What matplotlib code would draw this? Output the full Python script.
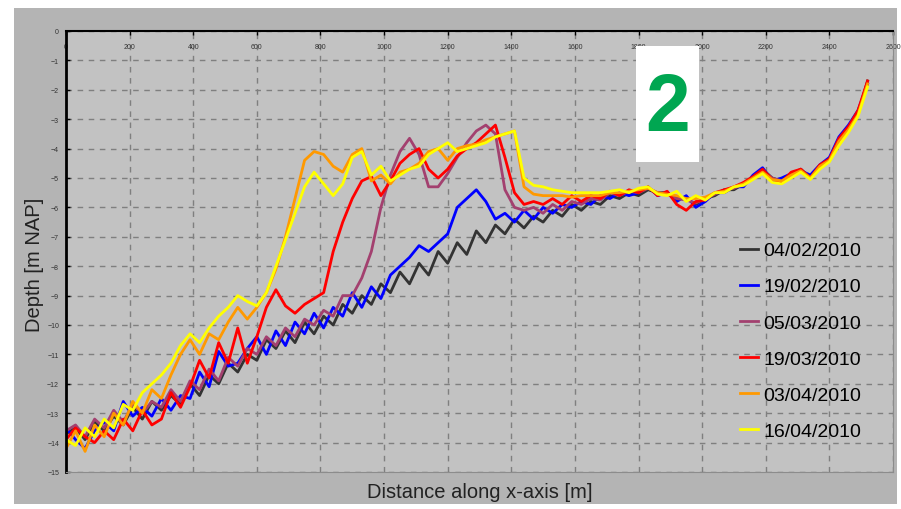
import numpy as np
import matplotlib
matplotlib.use("Agg")
import matplotlib.pyplot as plt
from matplotlib.patches import Rectangle

# Sample positions along the profile [m], one every 30 m
distance = np.arange(0, 2521, 30)

# Bed level [m NAP] for each survey date
depth_0402 = [
    -13.7, -13.5, -13.9, -13.3, -13.6, -13.1, -13.4, -12.8, -13.2, -12.6,
    -12.9, -12.4, -12.7, -12.0, -12.4, -11.7, -12.0, -11.3, -11.6, -11.0,
    -11.2, -10.5, -10.8, -10.2, -10.6, -9.9, -10.3, -9.7, -10.0, -9.3,
    -9.6, -9.0, -9.3, -8.6, -8.9, -8.2, -8.6, -7.9, -8.3, -7.5,
    -7.9, -7.2, -7.6, -6.8, -7.2, -6.6, -6.9, -6.4, -6.7, -6.3,
    -6.5, -6.1, -6.3, -5.9, -6.1, -5.8, -5.9, -5.6, -5.7, -5.5,
    -5.6, -5.4, -5.5, -5.5, -5.7, -5.7, -5.9, -5.7, -5.6, -5.4,
    -5.4, -5.2, -5.0, -4.7, -5.0, -5.1, -4.9, -4.7, -5.0, -4.6,
    -4.4, -3.7, -3.3, -2.8, -1.7]
depth_1902 = [
    -13.5, -13.9, -14.2, -13.6, -13.3, -13.6, -12.6, -13.1, -12.8, -13.1,
    -12.5, -12.9, -12.4, -12.5, -11.6, -12.1, -10.9, -11.4, -11.3, -10.8,
    -10.4, -11.0, -10.2, -10.7, -9.9, -10.3, -9.6, -10.1, -9.4, -9.7,
    -8.9, -9.4, -8.7, -9.1, -8.3, -8.0, -7.7, -7.3, -7.5, -7.2,
    -6.9, -6.0, -5.7, -5.4, -5.8, -6.4, -6.2, -6.5, -6.1, -6.4,
    -6.0, -6.2, -5.9, -6.0, -5.8, -5.9, -5.6, -5.7, -5.5, -5.6,
    -5.5, -5.3, -5.6, -5.5, -5.8, -5.6, -6.0, -5.8, -5.5, -5.5,
    -5.3, -5.3, -4.9, -4.65, -5.1, -5.0, -4.85, -4.75, -4.9, -4.55,
    -4.3, -3.6, -3.2, -2.7, -1.8]
depth_0503 = [
    -13.6, -13.4, -13.8, -13.2, -13.5, -12.9, -13.3, -12.7, -13.0, -12.6,
    -12.8, -12.2, -12.6, -11.9, -12.2, -11.5, -11.9, -11.1, -11.4, -10.8,
    -11.0, -10.4, -10.7, -10.1, -10.4, -9.8, -10.0, -9.5, -9.7, -9.0,
    -9.0, -8.4, -7.5, -6.0, -4.9, -4.1, -3.65, -4.2, -5.3, -5.3,
    -4.85, -4.3, -3.8, -3.4, -3.2, -3.5, -5.4, -6.0, -6.1, -6.0,
    -6.2, -5.9, -6.1, -5.8, -5.9, -5.7, -5.75, -5.5, -5.6, -5.45,
    -5.5, -5.35, -5.5, -5.55, -5.7, -5.75, -5.85, -5.7, -5.55, -5.4,
    -5.35, -5.2, -5.0, -4.75, -5.0, -5.1, -4.9, -4.7, -5.0, -4.6,
    -4.4, -3.7, -3.3, -2.8, -1.75]
depth_1903 = [
    -13.9, -13.5, -13.8, -14.0, -13.6, -13.9, -13.2, -13.6, -12.9, -13.4,
    -13.2, -12.3, -12.8, -12.1, -11.2, -11.8, -10.6, -11.3, -10.1, -11.3,
    -10.4, -9.4, -8.8, -9.35, -9.6, -9.3, -9.1, -8.9, -7.5, -6.5,
    -5.7, -5.1, -4.95, -5.6, -5.1, -4.5, -4.2, -4.0, -4.7, -5.0,
    -4.7, -4.25, -4.0, -3.8, -3.5, -3.2, -4.3, -5.5, -5.9, -5.8,
    -5.9, -5.7, -5.9, -5.6, -5.8, -5.6, -5.7, -5.45, -5.6, -5.4,
    -5.5, -5.3, -5.6, -5.45, -5.9, -6.1, -5.8, -5.75, -5.5, -5.4,
    -5.3, -5.15, -4.95, -4.7, -5.05, -5.15, -4.8, -4.7, -5.0, -4.55,
    -4.35, -3.65, -3.25, -2.7, -1.7]
depth_0304 = [
    -14.2, -13.6, -14.3, -13.4, -13.8, -13.0, -13.4, -12.6, -13.0, -12.2,
    -12.5, -11.7, -11.0, -10.5, -11.0, -10.3, -10.5, -9.9, -9.4, -9.8,
    -9.4, -8.9, -8.1, -7.0, -5.7, -4.4, -4.1, -4.2, -4.6, -4.8,
    -4.2, -4.0, -5.1, -4.9, -5.2, -4.8, -4.7, -4.5, -4.1, -4.0,
    -4.4, -4.0, -3.9, -3.85, -3.7, -3.6, -3.5, -3.4, -5.3, -5.55,
    -5.6, -5.6, -5.6, -5.65, -5.6, -5.6, -5.6, -5.5, -5.5, -5.45,
    -5.4, -5.35, -5.5, -5.55, -5.6, -5.7, -5.7, -5.65, -5.5, -5.45,
    -5.3, -5.2, -5.0, -4.8, -5.05, -5.1, -4.9, -4.75, -5.0, -4.6,
    -4.4, -3.75, -3.35, -2.85, -1.8]
depth_1604 = [
    -13.9, -14.1, -13.5, -13.8, -13.2, -13.5, -12.7, -12.9, -12.3, -12.0,
    -11.7, -11.3, -10.7, -10.3, -10.6, -10.1, -9.7, -9.4, -9.0, -9.2,
    -9.35, -8.9, -8.0, -7.1, -6.2, -5.3, -4.8, -5.2, -5.6, -5.2,
    -4.3, -4.1, -4.9, -4.6, -5.1, -4.9, -4.7, -4.6, -4.2, -4.0,
    -3.8, -4.1, -4.0, -3.9, -3.8, -3.6, -3.5, -3.4, -5.0, -5.25,
    -5.3, -5.4, -5.45, -5.5, -5.5, -5.5, -5.5, -5.45, -5.4, -5.5,
    -5.35, -5.3, -5.55, -5.6, -5.45, -5.8, -5.6, -5.75, -5.5, -5.5,
    -5.3, -5.25, -5.05, -4.85, -5.15, -5.2, -5.0, -4.8, -5.05, -4.7,
    -4.45, -3.9, -3.45, -2.9, -1.9]

survey_dates = ["04/02/2010", "19/02/2010", "05/03/2010",
                "19/03/2010", "03/04/2010", "16/04/2010"]
survey_colors = ["#333333", "#0000ff", "#a3406f", "#ff0000", "#ff9900", "#ffff00"]
profiles = [depth_0402, depth_1902, depth_0503, depth_1903, depth_0304, depth_1604]

x_ticks = np.arange(0, 2601, 200)
y_ticks = np.arange(-15, 1, 1)

plt.rcParams['font.family'] = ['Liberation Sans', 'DejaVu Sans']

fig = plt.figure(figsize=(9.01, 5.10), dpi=100)
fig.patch.set_facecolor("white")

# grey panel behind the chart
fig.add_artist(Rectangle((14 / 901, 5 / 510), 883 / 901, 496 / 510,
                         transform=fig.transFigure, facecolor="#b4b4b4",
                         edgecolor="none", zorder=-1))

ax = fig.add_axes([66 / 901, 37 / 510, 827 / 901, 441 / 510])
ax.set_facecolor("#c2c2c2")

for depth, label, color in zip(profiles, survey_dates, survey_colors):
    ax.plot(distance, depth, color=color, lw=2, label=label)

ax.set_xlim(0, 2600)
ax.set_ylim(-15, 0)
ax.set_xticks(x_ticks)
ax.set_yticks(y_ticks)
ax.xaxis.tick_top()
ax.tick_params(axis="x", direction="in", length=3, width=1, pad=-14,
               labelsize=5, labelcolor="#333333")
ax.tick_params(axis="y", direction="in", length=3, width=1, pad=5,
               labelsize=5, labelcolor="#333333")

ax.grid(True, color="#7f7f7f", linestyle=(0, (4, 4)), linewidth=1)
ax.set_axisbelow(True)

ax.spines["left"].set_linewidth(2)
ax.spines["left"].set_color("black")
ax.spines["top"].set_linewidth(1.5)
ax.spines["top"].set_color("black")
ax.spines["right"].set_color("#8c8c8c")
ax.spines["bottom"].set_color("#8c8c8c")

ax.set_ylabel("Depth [m NAP]", fontsize=14.5, color="#222222")
ax.yaxis.set_label_coords(-0.027, 0.472)
fig.text(0.533, 0.035, "Distance along x-axis [m]", fontsize=14.5,
         color="#222222", ha="center", va="center")

leg = ax.legend(loc="upper left", bbox_to_anchor=(0.815, 0.522), frameon=False,
                fontsize=14, handlelength=0.9, handletextpad=0.3,
                labelspacing=0.95, borderpad=0, borderaxespad=0)
for line in leg.get_lines():
    line.set_linewidth(2)

# white label box with the panel number
fig.add_artist(Rectangle((636 / 901, (510 - 163) / 510), 63 / 901, 116 / 510,
                         transform=fig.transFigure, facecolor="white",
                         edgecolor="none", zorder=5))
fig.text(667.5 / 901, (510 - 110) / 510, "2", fontsize=58, fontweight="bold",
         color="#00a651", ha="center", va="center", zorder=6)

fig.savefig("out.png", dpi=100)
